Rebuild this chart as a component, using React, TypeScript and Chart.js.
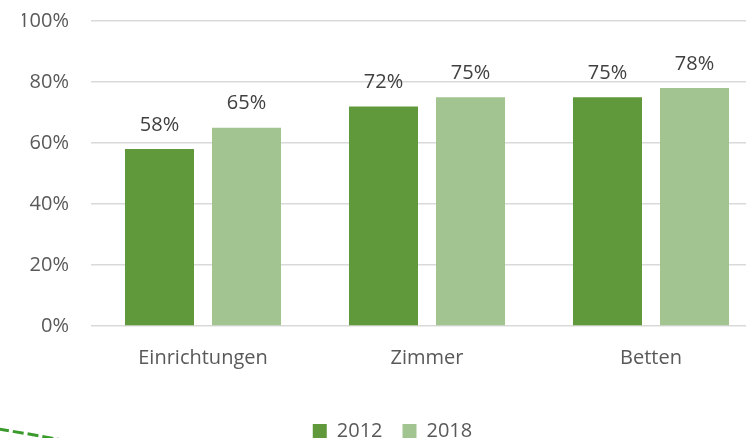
import React, { useEffect, useRef } from "react";
import { Chart, registerables } from "chart.js";

Chart.register(...registerables);

const categories = ["Einrichtungen", "Zimmer", "Betten"];
const series2012 = [58, 72, 75];
const series2018 = [65, 75, 78];
const seriesLabels = ["2012", "2018"];
const yTicks = [0, 20, 40, 60, 80, 100];

const FONT = "'Open Sans', 'Noto Sans', sans-serif";

const valueLabels = {
  id: "valueLabels",
  afterDatasetsDraw(chart: any) {
    const ctx = chart.ctx;
    ctx.save();
    ctx.font = `20px ${FONT}`;
    ctx.fillStyle = "#404040";
    ctx.textAlign = "center";
    ctx.textBaseline = "bottom";
    chart.data.datasets.forEach((ds: any, di: number) => {
      const meta = chart.getDatasetMeta(di);
      meta.data.forEach((bar: any, i: number) => {
        ctx.fillText(`${ds.data[i]}%`, bar.x, bar.y - 14);
      });
    });
    ctx.restore();
  },
};

const decoration = {
  id: "decoration",
  afterDraw(chart: any) {
    const ctx = chart.ctx;
    ctx.save();
    ctx.strokeStyle = "#3a9b2c";
    ctx.lineWidth = 3;
    ctx.setLineDash([11, 4]);
    ctx.beginPath();
    ctx.moveTo(-2, 429);
    ctx.quadraticCurveTo(30, 434, 62, 440);
    ctx.stroke();
    ctx.restore();
  },
};

export default function App() {
  const ref = useRef<HTMLCanvasElement | null>(null);
  useEffect(() => {
    if (!ref.current) return;
    const chart = new Chart(ref.current, {
      type: "bar",
      data: {
        labels: categories,
        datasets: [
          {
            label: seriesLabels[0],
            data: series2012,
            backgroundColor: "#60993b",
            barPercentage: 0.793,
            categoryPercentage: 0.777,
          },
          {
            label: seriesLabels[1],
            data: series2018,
            backgroundColor: "#a1c490",
            barPercentage: 0.793,
            categoryPercentage: 0.777,
          },
        ],
      },
      options: {
        animation: false,
        responsive: false,
        maintainAspectRatio: false,
        layout: { padding: { top: 21, right: 0, left: 22, bottom: -13 } },
        plugins: {
          legend: {
            position: "bottom",
            labels: {
              boxWidth: 14,
              boxHeight: 14,
              padding: 20,
              color: "#595959",
              font: { family: FONT, size: 20 },
            },
          },
          tooltip: { enabled: false },
        },
        scales: {
          x: {
            grid: { display: false, drawTicks: false },
            border: { display: false },
            ticks: {
              color: "#595959",
              font: { family: FONT, size: 20 },
              padding: 20,
            },
            afterFit(scale: any) {
              scale.height = 75;
            },
          },
          y: {
            min: 0,
            max: 100,
            afterBuildTicks(scale: any) {
              scale.ticks = yTicks.map((v) => ({ value: v }));
            },
            grid: { color: "#d9d9d9", lineWidth: 1.5, drawTicks: false },
            border: { display: false },
            ticks: {
              color: "#595959",
              font: { family: FONT, size: 20 },
              padding: 22,
              callback: (v: any) => `${v}%`,
            },
            afterFit(scale: any) {
              scale.width = 69;
              scale.paddingTop = 0;
              scale.paddingBottom = 0;
            },
          },
        },
      },
      plugins: [valueLabels, decoration],
    });
    return () => chart.destroy();
  }, []);
  return (
    <div style={{ position: "absolute", left: 0, top: 0, width: 746, height: 438, overflow: "hidden", background: "#fff" }}>
      <canvas ref={ref} width={763} height={438} style={{ display: "block" }} />
    </div>
  );
}
